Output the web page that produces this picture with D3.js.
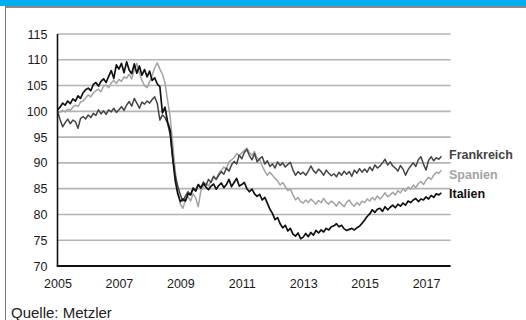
<!DOCTYPE html>
<html>
<head>
<meta charset="utf-8">
<script src="https://cdn.jsdelivr.net/npm/d3@7"></script>
<style>
  html, body { margin: 0; padding: 0; background: #fff; }
  svg { display: block; font-family: "Liberation Sans", Arial, sans-serif; }
</style>
</head>
<body>
<svg id="chart" width="526" height="320"></svg>
<script>
// Monthly index values, January 2005 to June 2017 (2005 = 100)
const startYear = 2005;
const frankreich = [
  100.0, 98.4, 97.0, 97.8, 98.5, 97.6, 98.3, 98.0, 96.7, 98.6, 99.0, 98.5,
  99.3, 98.8, 99.6, 99.2, 100.3, 99.5, 100.1, 99.4, 100.3, 99.9, 100.6, 99.8,
  100.3, 100.9, 100.2, 101.2, 101.9, 101.0, 102.5, 101.6, 100.6, 101.8, 101.4, 102.0,
  101.6, 102.3, 102.8, 101.5, 98.3, 99.3, 98.8, 97.7, 95.5, 91.0, 87.5, 85.5,
  83.8, 82.6, 83.6, 84.4, 83.8, 85.2, 84.5, 85.8, 85.0, 86.3, 85.6, 86.8,
  86.2, 87.4, 86.8, 87.6, 88.3, 87.8, 89.0, 88.4, 89.6, 90.3, 89.8, 91.5,
  90.8, 92.0, 92.6, 91.4, 90.6, 91.8, 90.2, 90.8, 91.2, 89.8, 90.4, 89.3,
  89.8, 89.0, 90.2, 89.5, 90.0, 89.2, 89.7, 90.1, 88.6, 87.6, 88.3, 87.8,
  88.2, 87.6, 88.4, 89.4, 88.5, 88.0, 88.8, 88.3, 87.6, 88.6, 88.0, 87.5,
  87.9, 87.3, 88.2, 87.6, 88.4, 87.8, 88.3, 87.4, 88.6, 88.0, 88.9, 88.2,
  88.8, 88.2, 89.2, 88.5, 89.6, 89.0, 89.4, 90.0, 90.7, 89.6, 90.2, 89.4,
  89.0, 88.4, 89.5, 88.8, 87.6, 88.7, 89.4, 90.0, 89.3, 90.6, 91.2, 89.8,
  88.6, 90.5, 91.2, 90.4, 91.0, 90.7, 91.3
];
const spanien = [
  100.0, 99.8, 100.2, 99.9, 100.4, 100.2, 100.8, 101.2, 100.9, 101.8, 102.0, 102.6,
  103.2, 102.8, 103.6, 104.0, 104.3, 103.8, 104.9, 105.1, 104.6, 105.5, 106.0, 105.4,
  106.2, 105.8, 106.7, 106.4, 107.2, 106.3, 108.0, 109.3, 107.4, 106.0, 105.0, 104.6,
  105.8, 107.0, 108.5, 109.4, 108.2, 107.2, 105.5, 102.2, 99.0, 94.0, 88.5, 84.5,
  82.0, 81.2, 82.8, 83.5, 82.6, 84.0, 83.2, 81.5, 84.5, 85.4, 86.0, 85.5,
  86.5, 87.2, 86.8, 88.0, 88.6, 89.2, 88.8, 90.2, 90.6, 91.0, 91.8, 91.4,
  91.9, 92.4, 92.9, 92.0, 91.5, 92.2, 90.8, 90.6, 89.4, 88.4, 87.6, 88.2,
  87.6, 87.0, 86.5, 85.7, 86.2, 85.4, 84.6, 84.9, 83.8, 82.8, 83.3, 82.5,
  82.2, 82.8, 82.3, 83.0, 82.5, 82.0, 82.7, 82.3, 83.1, 82.4, 82.0, 82.6,
  82.2, 81.6, 82.5, 82.0, 81.5, 82.4, 82.8, 82.0, 81.6, 82.3, 81.8, 82.6,
  82.3, 83.0, 82.6, 83.3, 82.8, 83.6, 83.0, 83.5, 84.2, 83.4, 83.8, 84.3,
  83.8, 84.6, 84.2, 85.0, 84.5, 85.3, 84.9, 85.7, 85.2, 86.0, 86.4, 85.8,
  86.6, 87.2, 86.8, 87.6, 88.2, 88.0, 88.6
];
const italien = [
  100.3, 100.8, 101.6, 101.2, 102.0, 101.5, 102.4, 102.0, 103.0, 102.5, 103.6, 104.2,
  104.5, 104.0, 105.2, 105.6, 104.9, 105.8, 106.3, 105.6, 106.8, 107.9, 106.4, 109.0,
  108.2, 109.3, 107.5, 109.6, 108.0, 107.3, 109.2, 107.4, 108.8, 107.0, 108.1, 106.7,
  107.8, 106.0, 106.5, 105.3, 104.8, 99.7, 100.8, 98.0, 96.4, 91.0, 86.5, 84.0,
  82.5, 83.0, 82.6, 84.0, 83.8, 85.0, 84.6, 85.8, 85.2, 86.0, 85.3, 84.8,
  85.5, 85.9, 84.9, 85.6, 86.1, 85.2, 85.8, 86.8, 85.4, 86.2, 87.0, 85.5,
  85.8, 86.2, 85.0, 84.4, 84.9, 84.0, 83.5, 83.9, 82.8, 83.3, 82.2, 81.0,
  80.2, 79.0, 79.4, 78.2, 77.4, 77.9, 76.8, 77.3, 76.2, 75.8, 76.4, 75.3,
  75.6, 76.3, 75.7, 76.5, 76.0, 76.9, 76.4, 77.0, 76.6, 77.3, 77.0, 77.6,
  77.8, 78.2, 77.6, 77.9, 77.2, 76.9, 77.1, 77.3, 77.0, 77.4, 77.7, 78.3,
  78.9, 79.6, 80.1, 80.9, 80.4, 81.0, 81.2, 80.6, 81.5, 80.9, 81.4, 81.8,
  81.3, 82.0, 81.6, 82.2, 81.8, 82.6, 82.3, 82.8, 83.1, 82.5, 83.0, 82.8,
  83.4, 83.0, 83.7, 83.3, 84.0, 83.8, 84.2
];
const yTicks = [70, 75, 80, 85, 90, 95, 100, 105, 110, 115];
const xTicks = [2005, 2007, 2009, 2011, 2013, 2015, 2017];
const seriesColors = { Frankreich: "#444444", Spanien: "#a3a3a3", Italien: "#111111" };

const series = [
  { name: "Spanien", values: spanien },
  { name: "Frankreich", values: frankreich },
  { name: "Italien", values: italien }
];

const svg = d3.select("#chart");

// header band and frame
svg.append("rect").attr("x", 0).attr("y", 0).attr("width", 526).attr("height", 6).attr("fill", "#00aeef");
svg.append("line").attr("x1", 5).attr("x2", 526).attr("y1", 7).attr("y2", 7)
  .attr("stroke", "#8a8a8a").attr("stroke-width", 2);
svg.append("line").attr("x1", 5.5).attr("x2", 5.5).attr("y1", 6).attr("y2", 320)
  .attr("stroke", "#777").attr("stroke-width", 1);

const x = d3.scaleLinear().domain([2005, 2017.8]).range([57.5, 450.6]);
const y = d3.scaleLinear().domain([70, 115]).range([266, 34]);

// horizontal grid
svg.append("g").selectAll("line").data(yTicks.filter(v => v > 70)).join("line")
  .attr("x1", x(2005)).attr("x2", x(2017.8))
  .attr("y1", d => y(d)).attr("y2", d => y(d))
  .attr("stroke", "#b4b4b4").attr("stroke-width", 1.6);

// y axis labels
const yAxis = d3.axisLeft(y).tickValues(yTicks).tickSize(0).tickPadding(10);
const gy = svg.append("g").attr("transform", `translate(${x(2005)},0)`).call(yAxis);
gy.select(".domain").remove();
gy.selectAll("text").attr("font-size", 12.5).attr("fill", "#1a1a1a")
  .attr("font-family", "'Liberation Sans', Arial, sans-serif");

// x axis labels
const xAxis = d3.axisBottom(x).tickValues(xTicks).tickFormat(d3.format("d")).tickSize(0).tickPadding(13);
const gx = svg.append("g").attr("transform", `translate(0,${y(70)})`).call(xAxis);
gx.select(".domain").remove();
gx.selectAll("text").attr("font-size", 12.5).attr("fill", "#1a1a1a")
  .attr("font-family", "'Liberation Sans', Arial, sans-serif");

// series lines
const line = d3.line()
  .x((d, i) => x(startYear + i / 12))
  .y(d => y(d));

svg.append("g").selectAll("path").data(series).join("path")
  .attr("d", d => line(d.values))
  .attr("fill", "none")
  .attr("stroke", d => seriesColors[d.name])
  .attr("stroke-width", d => d.name === "Italien" ? 1.7 : 1.5)
  .attr("stroke-linejoin", "round");

// axis lines
svg.append("line").attr("x1", x(2005)).attr("x2", x(2005)).attr("y1", y(115)).attr("y2", y(70))
  .attr("stroke", "#111").attr("stroke-width", 1.6);
svg.append("line").attr("x1", x(2005) - 0.8).attr("x2", x(2017.8)).attr("y1", y(70)).attr("y2", y(70))
  .attr("stroke", "#111").attr("stroke-width", 2.2);

// end labels
const labelY = { Frankreich: 155, Spanien: 175, Italien: 194 };
svg.append("g").selectAll("text").data(["Frankreich", "Spanien", "Italien"]).join("text")
  .attr("x", 449)
  .attr("y", d => labelY[d])
  .attr("dy", "0.35em")
  .attr("font-size", 12.5)
  .attr("font-weight", "bold")
  .attr("fill", d => seriesColors[d])
  .text(d => d);

// source note
svg.append("text").attr("x", 11).attr("y", 318)
  .attr("font-size", 15).attr("fill", "#222")
  .text("Quelle: Metzler");
</script>
</body>
</html>
